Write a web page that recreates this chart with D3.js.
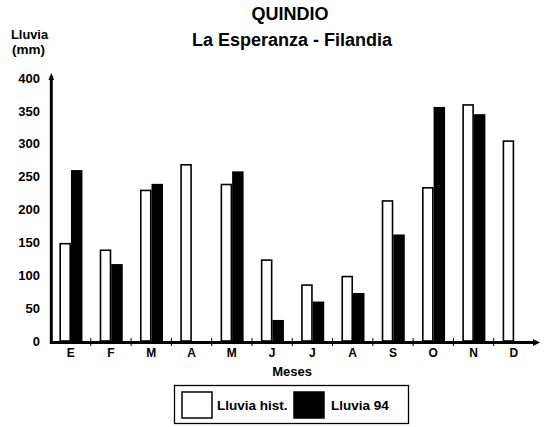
<!DOCTYPE html>
<html>
<head>
<meta charset="utf-8">
<script src="https://cdn.jsdelivr.net/npm/d3@7"></script>
<style>
  html, body { margin: 0; padding: 0; background: #ffffff; }
  svg { display: block; font-family: "Liberation Sans", Arial, sans-serif; font-weight: bold; }
</style>
</head>
<body>
<svg id="chart" width="544" height="427"></svg>
<script>
const months = ["E", "F", "M", "A", "M", "J", "J", "A", "S", "O", "N", "D"];
const lluviaHist = [148, 138, 229, 268, 238, 123, 85, 98, 213, 233, 359, 304];
const lluvia94 = [260, 117, 239, 0, 258, 32, 60, 73, 162, 356, 345, 0];
const yTicks = [0, 50, 100, 150, 200, 250, 300, 350, 400];
const seriesNames = ["Lluvia hist.", "Lluvia 94"];
const seriesFill = ["#ffffff", "#000000"];

const svg = d3.select("#chart");
const idx = months.map((m, i) => i);

const x0 = d3.scaleBand().domain(idx).range([50.5, 534]).paddingInner(0).paddingOuter(0);
const pairW = 23;
const x1 = d3.scaleBand().domain([0, 1]).range([0, pairW]);
const y = d3.scaleLinear().domain([0, 400]).range([341, 78]);

// Titles
svg.append("text").attr("x", 290).attr("y", 20).attr("text-anchor", "middle")
  .attr("font-size", 18).text("QUINDIO");
svg.append("text").attr("x", 292).attr("y", 46).attr("text-anchor", "middle")
  .attr("font-size", 18).text("La Esperanza - Filandia");

// Y label
svg.append("text").attr("x", 11).attr("y", 38.5).attr("font-size", 12.5)
  .attr("textLength", 37).attr("lengthAdjust", "spacingAndGlyphs").text("Lluvia");
svg.append("text").attr("x", 12).attr("y", 54).attr("font-size", 12.5)
  .attr("textLength", 33).attr("lengthAdjust", "spacingAndGlyphs").text("(mm)");

// Y axis tick labels
const yAxis = d3.axisLeft(y).tickValues(yTicks).tickSize(0).tickPadding(11).tickFormat(d3.format("d"));
const gy = svg.append("g").attr("transform", "translate(51,0)").call(yAxis);
gy.select(".domain").remove();
gy.selectAll("text").attr("font-size", 13).attr("font-weight", "bold")
  .attr("font-family", "'Liberation Sans', Arial, sans-serif").attr("fill", "#000");

// Bars
const data = idx.map(i => ({ i, vals: [lluviaHist[i], lluvia94[i]] }));
const groups = svg.append("g").selectAll("g").data(data).join("g")
  .attr("transform", d => `translate(${x0(d.i) + x0.bandwidth() / 2 - pairW / 2 + 0.3},0)`);

groups.selectAll("rect").data(d => d.vals.map((v, s) => ({ v, s })).filter(e => e.v > 0))
  .join("rect")
  .attr("x", e => x1(e.s) + (e.s === 0 ? 0.75 : 0))
  .attr("width", e => x1.bandwidth() - (e.s === 0 ? 1.5 : 0))
  .attr("y", e => y(e.v))
  .attr("height", e => y(0) - y(e.v))
  .attr("fill", e => seriesFill[e.s])
  .attr("stroke", e => e.s === 0 ? "#000" : "none")
  .attr("stroke-width", 1.6);

// X axis
svg.append("line").attr("x1", 50).attr("x2", 536).attr("y1", 342.5).attr("y2", 342.5)
  .attr("stroke", "#000").attr("stroke-width", 3);
svg.append("path").attr("d", "M533,339 L540,342.5 L533,346 Z").attr("fill", "#000");

// boundary ticks
svg.append("g").selectAll("line").data(idx.slice(1)).join("line")
  .attr("x1", i => x0(i)).attr("x2", i => x0(i))
  .attr("y1", 338).attr("y2", 346).attr("stroke", "#000").attr("stroke-width", 1);

// Y axis line
svg.append("line").attr("x1", 51.3).attr("x2", 51.3).attr("y1", 76).attr("y2", 344)
  .attr("stroke", "#000").attr("stroke-width", 3);
svg.append("path").attr("d", "M48.5,80 L51.3,73 L54.1,80 Z").attr("fill", "#000");

// Month labels
const xAxis = d3.axisBottom(x0).tickSize(0).tickPadding(0).tickFormat(i => months[i]);
const gx = svg.append("g").attr("transform", "translate(0,348)").call(xAxis);
gx.select(".domain").remove();
gx.selectAll("text").attr("font-size", 12).attr("font-weight", "bold")
  .attr("font-family", "'Liberation Sans', Arial, sans-serif").attr("fill", "#000");

svg.append("text").attr("x", 292).attr("y", 376).attr("text-anchor", "middle")
  .attr("font-size", 13).text("Meses");

// Legend
const lg = svg.append("g");
lg.append("rect").attr("x", 174.5).attr("y", 385.5).attr("width", 234).attr("height", 38)
  .attr("fill", "#fff").attr("stroke", "#000").attr("stroke-width", 1.3);
const legX = [182, 294];
const legTX = [217, 331];
seriesNames.forEach((n, s) => {
  lg.append("rect").attr("x", legX[s]).attr("y", 392).attr("width", 30).attr("height", 26)
    .attr("fill", seriesFill[s]).attr("stroke", "#000").attr("stroke-width", 1.5);
  lg.append("text").attr("x", legTX[s]).attr("y", 410).attr("font-size", 13.5).text(n);
});
</script>
</body>
</html>
